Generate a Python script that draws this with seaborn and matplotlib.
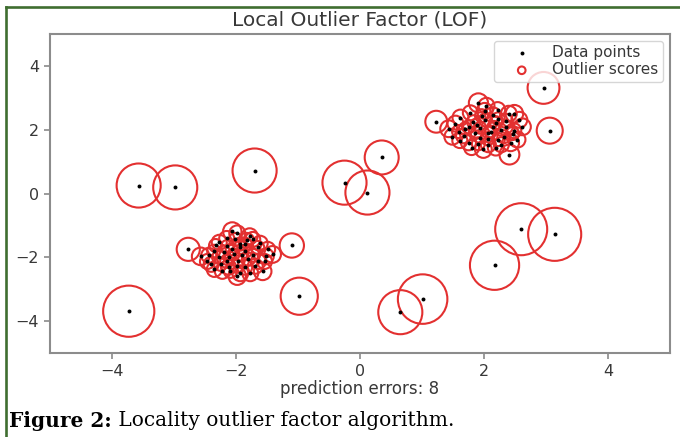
import numpy as np
import pandas as pd
import matplotlib
matplotlib.use("Agg")
import matplotlib.pyplot as plt
import seaborn as sns
from matplotlib.lines import Line2D

# ---- data ----
cluster_a_x = [1.91, 2.04, 2.22, 2.49, 1.62, 1.78, 1.96, 1.43, 1.59, 1.75, 1.94, 2.19,
               2.35, 2.48, 2.62, 2.46, 2.43, 2.23, 2.07, 1.94, 1.75, 1.61, 2.11, 2.02,
               2.27, 1.86, 1.67, 2.14, 2.32, 2.54, 1.83, 1.54, 2.06, 2.19, 1.99, 1.80,
               2.36, 1.91, 1.70, 2.15, 2.28, 2.57, 1.49, 2.01, 2.40, 1.88, 2.07, 2.23]
cluster_a_y = [2.84, 2.75, 2.63, 2.50, 2.38, 2.53, 2.44, 2.03, 1.94, 2.09, 2.06, 2.22,
               2.28, 1.97, 2.09, 1.88, 1.59, 1.69, 1.53, 1.75, 1.59, 1.66, 1.94, 2.31,
               2.00, 1.91, 1.81, 2.47, 1.78, 1.69, 2.25, 2.19, 1.72, 1.44, 1.38, 1.44,
               2.09, 1.56, 2.03, 2.09, 1.53, 2.31, 1.78, 2.59, 2.50, 2.16, 1.91, 2.34]
cluster_a_score = [0.13, 0.09, 0.08, 0.11, 0.09, 0.08, 0.06, 0.10, 0.06, 0.06, 0.05, 0.06,
                   0.07, 0.08, 0.10, 0.06, 0.10, 0.06, 0.08, 0.05, 0.08, 0.08, 0.05, 0.06,
                   0.05, 0.06, 0.08, 0.08, 0.06, 0.09, 0.06, 0.09, 0.06, 0.09, 0.10, 0.08,
                   0.06, 0.06, 0.06, 0.05, 0.08, 0.09, 0.09, 0.09, 0.09, 0.05, 0.05, 0.06]

cluster_b_x = [-2.06, -1.98, -1.78, -2.15, -2.27, -2.57, -2.46, -2.35, -2.22, -2.09, -1.93, -1.98,
               -2.04, -1.85, -1.69, -1.57, -1.54, -1.41, -1.49, -1.65, -1.73, -1.85, -2.14, -2.36,
               -2.44, -2.28, -2.15, -1.96, -1.80, -1.93, -2.07, -2.25, -1.86, -1.72, -1.61, -2.01,
               -2.33, -2.12, -1.77, -1.90, -2.20, -1.99, -1.64, -2.40, -1.83, -2.11, -1.94, -1.52]
cluster_b_y = [-1.19, -1.25, -1.34, -1.41, -1.53, -1.97, -2.13, -2.38, -2.44, -2.44, -2.50, -2.59,
               -1.91, -1.81, -2.28, -2.44, -2.13, -1.91, -1.75, -1.69, -1.44, -1.59, -1.66, -1.81,
               -1.94, -2.00, -2.13, -2.13, -2.06, -1.69, -1.75, -2.22, -2.31, -1.94, -1.56, -1.44,
               -1.63, -2.31, -2.50, -1.94, -1.84, -2.28, -2.13, -2.22, -1.47, -2.00, -1.59, -1.97]
cluster_b_score = [0.12, 0.09, 0.09, 0.08, 0.08, 0.11, 0.08, 0.08, 0.08, 0.06, 0.09, 0.11,
                   0.05, 0.06, 0.08, 0.11, 0.08, 0.10, 0.08, 0.06, 0.08, 0.06, 0.06, 0.06,
                   0.08, 0.06, 0.06, 0.05, 0.06, 0.06, 0.05, 0.06, 0.08, 0.06, 0.08, 0.06,
                   0.06, 0.08, 0.09, 0.05, 0.06, 0.06, 0.08, 0.08, 0.08, 0.05, 0.06, 0.09]

outlier_x = [2.96, 3.06, 2.41, 1.23, 0.35, -0.25, 0.12, -1.70, -3.57, -2.98,
             -2.77, -1.10, -0.98, -3.73, 0.65, 1.01, 2.17, 2.60, 3.14]
outlier_y = [3.31, 1.97, 1.22, 2.25, 1.13, 0.34, 0.03, 0.72, 0.25, 0.19,
             -1.75, -1.63, -3.22, -3.69, -3.72, -3.31, -2.25, -1.12, -1.28]
outlier_score = [0.36, 0.24, 0.14, 0.17, 0.41, 0.69, 0.69, 0.69, 0.69, 0.69,
                 0.19, 0.21, 0.49, 0.93, 0.69, 0.87, 0.86, 0.96, 1.00]

title = "Local Outlier Factor (LOF)"
xlabel = "prediction errors: 8"
x_ticks = [-4, -2, 0, 2, 4]
y_ticks = [-4, -2, 0, 2, 4]
caption_bold = "Figure 2:"
caption_rest = " Locality outlier factor algorithm."

df = pd.DataFrame({
    "x": cluster_a_x + cluster_b_x + outlier_x,
    "y": cluster_a_y + cluster_b_y + outlier_y,
    "score": cluster_a_score + cluster_b_score + outlier_score,
})

# ---- figure ----
W, H = 680, 437
fig = plt.figure(figsize=(W / 100, H / 100), dpi=100)
fig.patch.set_facecolor("white")

# green frame (left and top edges visible)
green = "#3f6e30"
fig.add_artist(Line2D([6 / W, 6 / W], [0, 1 - 7 / H], transform=fig.transFigure,
                      color=green, lw=1.9, solid_capstyle="projecting"))
fig.add_artist(Line2D([6 / W, 1.0], [1 - 7 / H, 1 - 7 / H], transform=fig.transFigure,
                      color=green, lw=1.9, solid_capstyle="projecting"))

ax = fig.add_axes([50 / W, 1 - 353 / H, 620 / W, 319 / H])

txt = "#383838"
sns.scatterplot(data=df, x="x", y="y", ax=ax, color="black", s=8,
                edgecolor="black", linewidth=0, label="Data points", zorder=3)
sns.scatterplot(data=df, x="x", y="y", ax=ax, s=df["score"] * 1460,
                facecolor="none", edgecolor="#e33030", linewidth=1.5,
                label="Outlier scores", zorder=2)

ax.set_xlim(-5, 5)
ax.set_ylim(-5, 5)
ax.set_xticks(x_ticks)
ax.set_yticks(y_ticks)
ax.set_xticklabels([f"\u2212{abs(v)}" if v < 0 else str(v) for v in x_ticks])
ax.set_yticklabels([f"\u2212{abs(v)}" if v < 0 else str(v) for v in y_ticks])
ax.tick_params(colors="#8a8a8a", labelcolor=txt, labelsize=11.5, width=1.2, length=4, pad=4)
for sp in ax.spines.values():
    sp.set_color("#8c8c8c")
    sp.set_linewidth(1.5)
ax.set_ylabel("")
ax.set_xlabel(xlabel, fontsize=12, color=txt, labelpad=1)
ax.set_title(title, fontsize=14.5, color=txt, pad=6)

leg = ax.legend(loc="upper right", fontsize=11, frameon=True, labelspacing=0.12,
                borderpad=0.3, handlelength=3.0, handletextpad=0.5, borderaxespad=0.45)
for t in leg.get_texts():
    t.set_color(txt)
hs = leg.legend_handles
hs[0].set_sizes([8])
hs[1].set_sizes([30])

# caption
fig.canvas.draw()
r = fig.canvas.get_renderer()
t1 = fig.text(9 / W, 1 - 421 / H, caption_bold, fontsize=14.5, fontweight="bold",
              family="DejaVu Serif", va="center", ha="left", color="black")
bb = t1.get_window_extent(renderer=r)
fig.text(bb.x1 / W, 1 - 421 / H, caption_rest, fontsize=14.5,
         family="DejaVu Serif", va="center", ha="left", color="black")

fig.savefig("out.png", dpi=100)
